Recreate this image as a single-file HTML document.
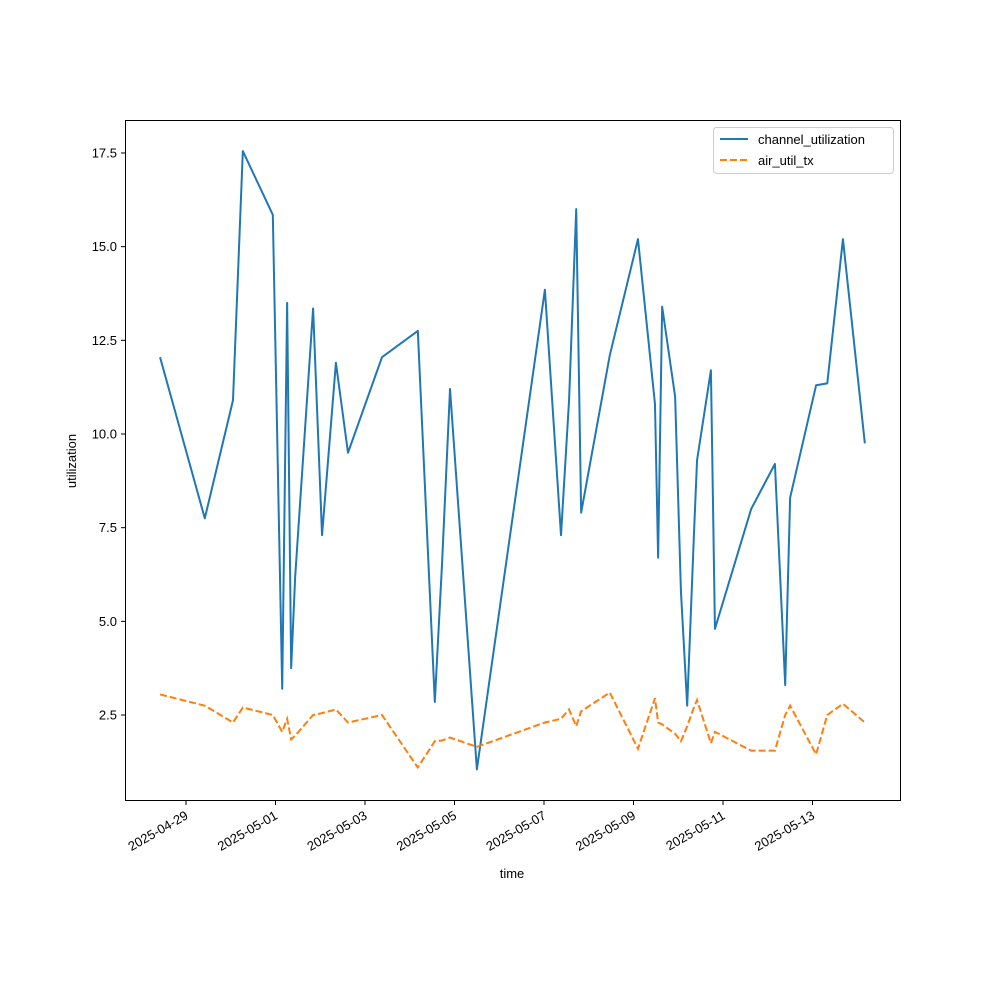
<!DOCTYPE html>
<html><head><meta charset="utf-8"><style>body{margin:0;background:#fff}svg{font-family:"Liberation Sans",sans-serif}</style></head>
<body>
<svg id="chart" width="1000" height="1000" viewBox="0 0 1000 1000">
<rect x="0" y="0" width="1000" height="1000" fill="#fff"/>
<g id="plot"></g>
<rect x="125.5" y="120.5" width="775" height="680" fill="none" stroke="#000" stroke-width="1"/>
<text x="76" y="461" font-size="13" text-anchor="middle" transform="rotate(-90,76,461)">utilization</text>
<text x="512" y="878" font-size="13" text-anchor="middle">time</text>
<g>
<rect x="713.5" y="127.5" width="180" height="46" fill="#fff" stroke="#ccc" rx="3"/>
<line x1="720" y1="139" x2="748" y2="139" stroke="#1f77b4" stroke-width="2"/>
<text x="758" y="144" font-size="13">channel_utilization</text>
<line x1="720" y1="160" x2="748" y2="160" stroke="#ff7f0e" stroke-width="2" stroke-dasharray="7,3"/>
<text x="758" y="165" font-size="13">air_util_tx</text>
</g>
</svg>
<script>
const days=[-0.58,0.42,1.05,1.27,1.94,2.15,2.26,2.35,2.44,2.84,3.04,3.35,3.62,4.38,5.18,5.56,5.72,5.90,6.50,8.02,8.38,8.56,8.72,8.83,9.47,10.10,10.48,10.55,10.64,10.93,11.06,11.20,11.35,11.42,11.73,11.82,12.63,13.16,13.39,13.50,14.08,14.33,14.68,15.17];
const channelUtil=[12.05,7.75,10.9,17.55,15.85,3.2,13.5,3.75,6.2,13.35,7.3,11.9,9.5,12.05,12.75,2.85,6.5,11.2,1.05,13.85,7.3,10.9,16.0,7.9,12.1,15.2,10.8,6.7,13.4,11.0,5.8,2.75,7.3,9.3,11.7,4.8,8.0,9.2,3.3,8.3,11.3,11.35,15.2,9.75];
const airUtil=[3.05,2.75,2.3,2.7,2.5,2.05,2.4,1.85,1.95,2.5,2.55,2.65,2.3,2.5,1.1,1.8,1.82,1.9,1.65,2.3,2.4,2.65,2.2,2.6,3.1,1.6,2.95,2.3,2.25,2.0,1.8,2.2,2.7,2.9,1.75,2.05,1.55,1.55,2.5,2.75,1.45,2.5,2.8,2.3];
const xTickLabels=["2025-04-29","2025-05-01","2025-05-03","2025-05-05","2025-05-07","2025-05-09","2025-05-11","2025-05-13"];
const xTickDays=[0,2,4,6,8,10,12,14];
const yTicks=[2.5,5.0,7.5,10.0,12.5,15.0,17.5];
const X=d=>186+d*44.75;
const Y=v=>808.7-v*37.47;
const NS="http://www.w3.org/2000/svg";
const plot=document.getElementById('plot');
function mk(t,a){const e=document.createElementNS(NS,t);for(const k in a)e.setAttribute(k,a[k]);plot.appendChild(e);return e;}
yTicks.forEach(v=>{
 const y=Y(v);
 const l=mk('line',{x1:121,x2:125,y1:y,y2:y,stroke:'#000'});
 
 
 const t=mk('text',{x:117,y:y+4.5,'font-size':13,'text-anchor':'end'});
 
 
 t.textContent=v.toFixed(1);
});
xTickDays.forEach((d,i)=>{
 const x=X(d);
 const l=mk('line',{x1:x,x2:x,y1:801,y2:805,stroke:'#000'});
 
 
 const t=mk('text',{x:x+3,y:818,'font-size':13,'text-anchor':'end',transform:`rotate(-30,${x+3},818)`});
 
 
 t.textContent=xTickLabels[i];
});
const p1=mk('polyline',{points:days.map((d,i)=>X(d)+','+Y(channelUtil[i])).join(' '),fill:'none',stroke:'#1f77b4','stroke-width':2,'stroke-linejoin':'round'});


const p2=mk('polyline',{points:days.map((d,i)=>X(d)+','+Y(airUtil[i])).join(' '),fill:'none',stroke:'#ff7f0e','stroke-width':2,'stroke-dasharray':'7,3'});


</script>
</body></html>
